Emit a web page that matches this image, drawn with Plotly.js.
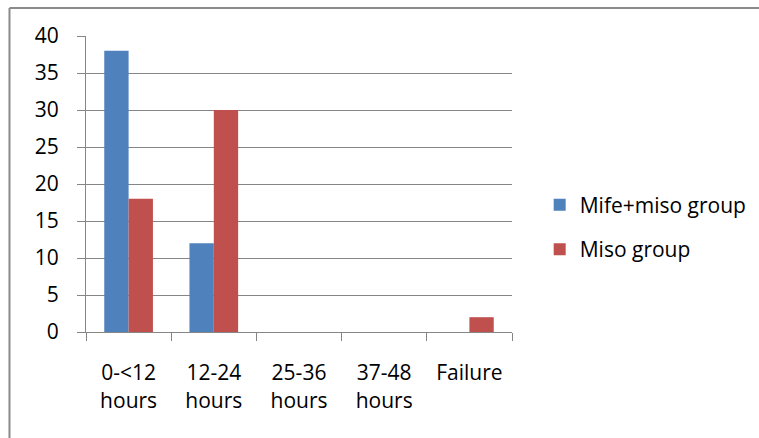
<!DOCTYPE html>
<html>
<head>
<meta charset="utf-8">
<script src="https://cdn.plot.ly/plotly-3.0.1.min.js"></script>
<style>html,body{margin:0;padding:0;background:#fff;overflow:hidden;}#chart{width:759px;height:438px;}</style>
</head>
<body>
<div id="chart"></div>
<script>
var categories = ["0-<12<br>hours", "12-24<br>hours", "25-36<br>hours", "37-48<br>hours", "Failure"];
var mifeMiso = [38, 12, 0, 0, 0];
var miso = [18, 30, 0, 0, 2];
var seriesNames = ["Mife+miso group", "Miso group"];
var yTicks = [0, 5, 10, 15, 20, 25, 30, 35, 40];

var font = {family: "Open Sans, sans-serif", size: 21, color: "#000"};
var grey = "#868686";
var borderLine = {color: "#8a8a8a", width: 2};

var data = [
  {type: "bar", x: categories, y: mifeMiso, name: seriesNames[0], legendgroup: "a",
   marker: {color: "#4F81BD"}},
  {type: "bar", x: categories, y: miso, name: seriesNames[1], legendgroup: "b",
   marker: {color: "#C0504D"}}
];

var layout = {
  width: 759, height: 438,
  margin: {l: 86, r: 247, t: 36, b: 106, autoexpand: false},
  paper_bgcolor: "#fff", plot_bgcolor: "#fff",
  font: font,
  barmode: "group",
  bargap: 0.4286,
  bargroupgap: 0,
  showlegend: true,
  legend: {x: 1.065, y: 0.354, xanchor: "left", yanchor: "middle",
           font: font, traceorder: "grouped", tracegroupgap: 14,
           bgcolor: "rgba(0,0,0,0)"},
  xaxis: {type: "category", showline: true, linecolor: grey, linewidth: 1,
          ticks: "outside", tickson: "boundaries", ticklen: 8, tickcolor: grey,
          showgrid: false, tickfont: font, ticklabelstandoff: 22, fixedrange: true},
  yaxis: {range: [0, 40], tickvals: yTicks, showline: true, linecolor: grey, linewidth: 1,
          ticks: "outside", ticklen: 8, tickcolor: grey, gridcolor: grey, gridwidth: 1,
          zeroline: false, tickfont: font, ticklabelstandoff: 14, fixedrange: true},
  shapes: [
    {type: "line", xref: "paper", yref: "paper", x0: -0.1796, x1: -0.1796, y0: -0.5, y1: 1.0946,
     line: borderLine, layer: "below"},
    {type: "line", xref: "paper", yref: "paper", x0: -0.1796, x1: 1.6, y0: 1.0946, y1: 1.0946,
     line: borderLine, layer: "below"}
  ]
};

Plotly.newPlot("chart", data, layout, {displayModeBar: false, staticPlot: true});
</script>
</body>
</html>
